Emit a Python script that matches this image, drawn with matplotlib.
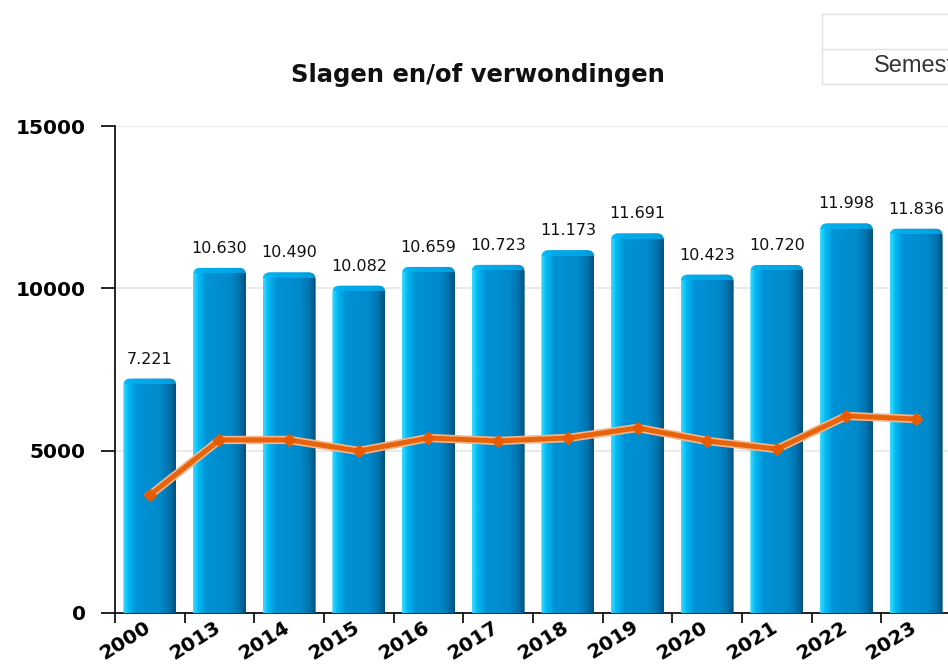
import numpy as np
import matplotlib
matplotlib.use("Agg")
import matplotlib.pyplot as plt
from matplotlib.patches import FancyBboxPatch, Rectangle
from matplotlib.colors import LinearSegmentedColormap
import matplotlib.patheffects as pe

years = ["2000", "2013", "2014", "2015", "2016", "2017", "2018", "2019",
         "2020", "2021", "2022", "2023"]
totals = [7221, 10630, 10490, 10082, 10659, 10723, 11173, 11691,
          10423, 10720, 11998, 11836]
semester = [3630, 5330, 5330, 4990, 5390, 5300, 5390, 5700,
            5300, 5050, 6070, 5975]

W, H = 948, 666
fig = plt.figure(figsize=(W / 100, H / 100), dpi=100)
ax = fig.add_axes([115 / W, (H - 613) / H, 836 / W, 487 / H])

bar_cmap = LinearSegmentedColormap.from_list("bar", [
    (0.0, "#3ad8ff"), (0.10, "#00baf2"), (0.25, "#0092d6"),
    (0.70, "#008acb"), (0.88, "#0073ad"), (1.0, "#00527e")])
grad = np.linspace(0, 1, 64).reshape(1, -1)

bw = 0.76
for i, v in enumerate(totals):
    x0 = i - bw / 2
    patch = FancyBboxPatch((x0, -600), bw, v + 600,
                           boxstyle="round,pad=0,rounding_size=0.1",
                           mutation_aspect=2300, facecolor="none",
                           edgecolor="none", zorder=3)
    ax.add_patch(patch)
    im = ax.imshow(grad, cmap=bar_cmap, aspect="auto", zorder=3,
                   extent=[x0, x0 + bw, -600, v], interpolation="bilinear")
    im.set_clip_path(patch)
    # lighter cap at the top
    cap = Rectangle((x0, v - 170), bw, 170, facecolor="#00b4f4",
                    edgecolor="none", alpha=0.7, zorder=3.2)
    ax.add_patch(cap)
    cap.set_clip_path(patch)
    lbl = f"{v:,}".replace(",", ".")
    ax.text(i, v + 370, lbl, ha="center", va="bottom", fontsize=11.5,
            color="#111111", zorder=5)

xs = np.arange(len(years))
ax.plot(xs, semester, color="#e8640c", lw=3.6, zorder=6,
        path_effects=[pe.Stroke(linewidth=6, foreground="#f6b58c"),
                      pe.Normal()])
ax.plot(xs, semester, linestyle="none", marker="D", markersize=6,
        markerfacecolor="#e85a00", markeredgecolor="#e85a00", zorder=7)

ax.set_xlim(-0.5, len(years) - 0.5)
ax.set_ylim(0, 15000)
ax.set_yticks([0, 5000, 10000, 15000])
ax.set_yticklabels(["0", "5000", "10000", "15000"], fontsize=14.5,
                   fontweight="bold")
ax.yaxis.grid(True, color="#e6e6e6", lw=1.2, zorder=0)
ax.set_axisbelow(True)
ax.tick_params(axis="y", length=10, width=1.2, pad=11)

ax.set_xticks(np.arange(len(years) + 1) - 0.5)
ax.set_xticklabels([])
ax.tick_params(axis="x", which="major", length=7, width=1.2)
for i, yr in enumerate(years):
    ax.annotate(yr, xy=(i + 0.06, 0), xycoords="data", xytext=(0, -3),
                textcoords="offset points", rotation=32, ha="right",
                va="top", fontsize=14.5, fontweight="bold", annotation_clip=False)

for s in ["top", "right"]:
    ax.spines[s].set_visible(False)
ax.spines["left"].set_linewidth(1.2)
ax.spines["bottom"].set_linewidth(1.2)

fig.text(478 / W, 1 - 75 / H, "Slagen en/of verwondingen", ha="center",
         va="center", fontsize=17.5, fontweight="bold", color="#111111")

# legend table stub at top right (cut off by the right edge, as in the source)
tab = Rectangle((822 / W, 1 - 84 / H), 140 / W, 70 / H, transform=fig.transFigure,
                facecolor="white", edgecolor="#e2e2e2", lw=1)
fig.add_artist(tab)
fig.add_artist(plt.Line2D([822 / W, 1], [1 - 49 / H, 1 - 49 / H],
                          transform=fig.transFigure, color="#e2e2e2", lw=1))
fig.text(874 / W, 1 - 66 / H, "Semester", ha="left", va="center",
         fontsize=17, color="#333333", family="Liberation Sans")

fig.savefig("out.png", dpi=100)
